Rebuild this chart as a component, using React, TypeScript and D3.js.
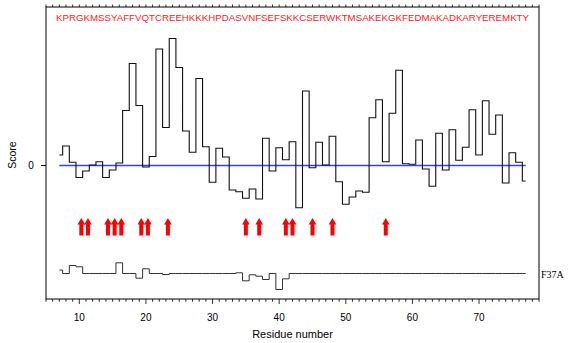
import React from "react";
import * as d3 from "d3";

const residues: number[] = d3.range(7, 78);
const scores: number[] = [
  1.05, 1.95, 0.32, -1.2, -0.55, 0.05, 0.38, -1.2, -0.45, 0.25,
  5.5, 10.2, 6.0, -0.15, 0.9, 11.65, 3.8, 12.7, 9.8, 3.45,
  1.32, 8.7, 1.88, -1.68, 1.72, 0.85, -2.45, -2.62, -3.28, -2.35,
  -3.35, 2.72, -0.55, 1.78, 0.58, 2.38, -4.22, 7.45, -0.22, 2.32,
  0.05, 2.92, -1.62, -3.88, -3.15, -2.55, -2.68, 4.78, 6.58, 0.38,
  5.22, 9.52, 0.18, 0.12, 2.55, -0.35, -2.08, 3.22, -0.45, 3.58,
  0.52, 1.82, 5.58, 1.05, 6.48, 3.12, 5.05, -1.75, 1.28, 0.32, -1.55,
];
const f37aBase = -10.8;
const f37aDelta: number[] = [
  0.34, 0, 0.8, 0.67, 0, 0, 0, 0, 0, 1.07,
  0, 0, -0.47, 0.47, 0, 0, -0.1, 0, 0, 0,
  0, 0, 0, 0, 0, 0, 0, 0.07, -0.73, -0.13,
  -0.27, -0.6, 0, -1.6, -0.53, 0, 0, 0, 0, 0,
  0, 0, 0, 0, 0, 0, 0, 0, 0, 0,
  0, 0, 0, 0, 0, 0, 0, 0, 0, 0,
  0, 0, 0, 0, 0, 0, 0, 0, 0, 0, 0,
];
const arrowPositions: number[] = [10.3, 11.3, 14.3, 15.3, 16.3, 19.3, 20.3, 23.3, 35, 37, 41, 42, 45, 48, 56];
const sequence = "KPRGKMSSYAFFVQTCREEHKKKHPDASVNFSEFSKKCSERWKTMSAKEKGKFEDMAKADKARYEREMKTY";
const xTicks: number[] = [10, 20, 30, 40, 50, 60, 70];
const xMinorTicks: number[] = d3.range(5, 80);
const arrowY = -6.1;

export default function App() {
  const W = 568, H = 343;
  const x = d3.scaleLinear().domain([5, 79]).range([46, 539]);
  const y = d3.scaleLinear().domain([-13.35, 15.85]).range([299, 7]);
  const left = x(5), right = x(79), top = y(15.85), bottom = y(-13.35);

  const line = d3.line<[number, number]>().x(d => x(d[0])).y(d => y(d[1])).curve(d3.curveStep);
  const mainPath = line(residues.map((r, i) => [r, scores[i]]) as [number, number][]) || "";
  const f37Path = line(residues.map((r, i) => [r, f37aBase + f37aDelta[i]]) as [number, number][]) || "";

  const arrow = (cx: number, i: number) => {
    const yt = y(arrowY) - 8.5;
    const yb = yt + 17.5;
    const hw = 3.8, sw = 2, hh = 6.5;
    const d = `M${cx},${yt} L${cx + hw},${yt + hh} L${cx + sw},${yt + hh} L${cx + sw},${yb} L${cx - sw},${yb} L${cx - sw},${yt + hh} L${cx - hw},${yt + hh} Z`;
    return <path key={i} d={d} fill="#ff0000" />;
  };

  return (
    <svg width={W} height={H} style={{ position: "absolute", left: 0, top: 0 }} fontFamily="Liberation Sans, Arial, sans-serif">
      <rect x={0} y={0} width={W} height={H} fill="#ffffff" />
      {/* frame */}
      <rect x={left} y={top} width={right - left} height={bottom - top} fill="none" stroke="#000" strokeWidth={1} />
      {/* top ticks */}
      {xMinorTicks.map(t => (
        <line key={"tt" + t} x1={x(t)} x2={x(t)} y1={top} y2={top - 2.5} stroke="#000" strokeWidth={0.8} />
      ))}
      {/* bottom ticks */}
      {xMinorTicks.map(t => (
        <line key={"bt" + t} x1={x(t)} x2={x(t)} y1={bottom} y2={bottom + (t % 10 === 0 ? 5 : 2.8)} stroke="#000" strokeWidth={0.8} />
      ))}
      {xTicks.map(t => (
        <text key={"xl" + t} x={x(t)} y={320.5} fontSize={10} textAnchor="middle" fill="#000">{t}</text>
      ))}
      <text x={(left + right) / 2} y={337.5} fontSize={11} textAnchor="middle" fill="#000">Residue number</text>
      {/* y axis */}
      <line x1={left} x2={left - 5} y1={y(0)} y2={y(0)} stroke="#000" strokeWidth={1} />
      <text x={31} y={y(0) + 3.5} fontSize={10} textAnchor="middle" fill="#000">0</text>
      <text transform={`translate(16,${155}) rotate(-90)`} fontSize={10.5} textAnchor="middle" fill="#000">Score</text>
      {/* sequence */}
      <text x={x(6.5)} y={20.5} fontSize={8.6} fill="#ff2020" textLength={x(77.5) - x(6.5)} lengthAdjust="spacingAndGlyphs">{sequence}</text>
      {/* zero line */}
      <line x1={x(7)} x2={x(77)} y1={y(0)} y2={y(0)} stroke="#3a3aff" strokeWidth={1.3} />
      {/* main trace */}
      <path d={mainPath} fill="none" stroke="#111" strokeWidth={1.1} />
      {/* arrows */}
      {arrowPositions.map((p, i) => arrow(x(p), i))}
      {/* F37A trace */}
      <path d={f37Path} fill="none" stroke="#333" strokeWidth={1} />
      <text x={541} y={277.5} fontSize={10} fontFamily="Liberation Serif, Times New Roman, serif" fill="#000">F37A</text>
    </svg>
  );
}
